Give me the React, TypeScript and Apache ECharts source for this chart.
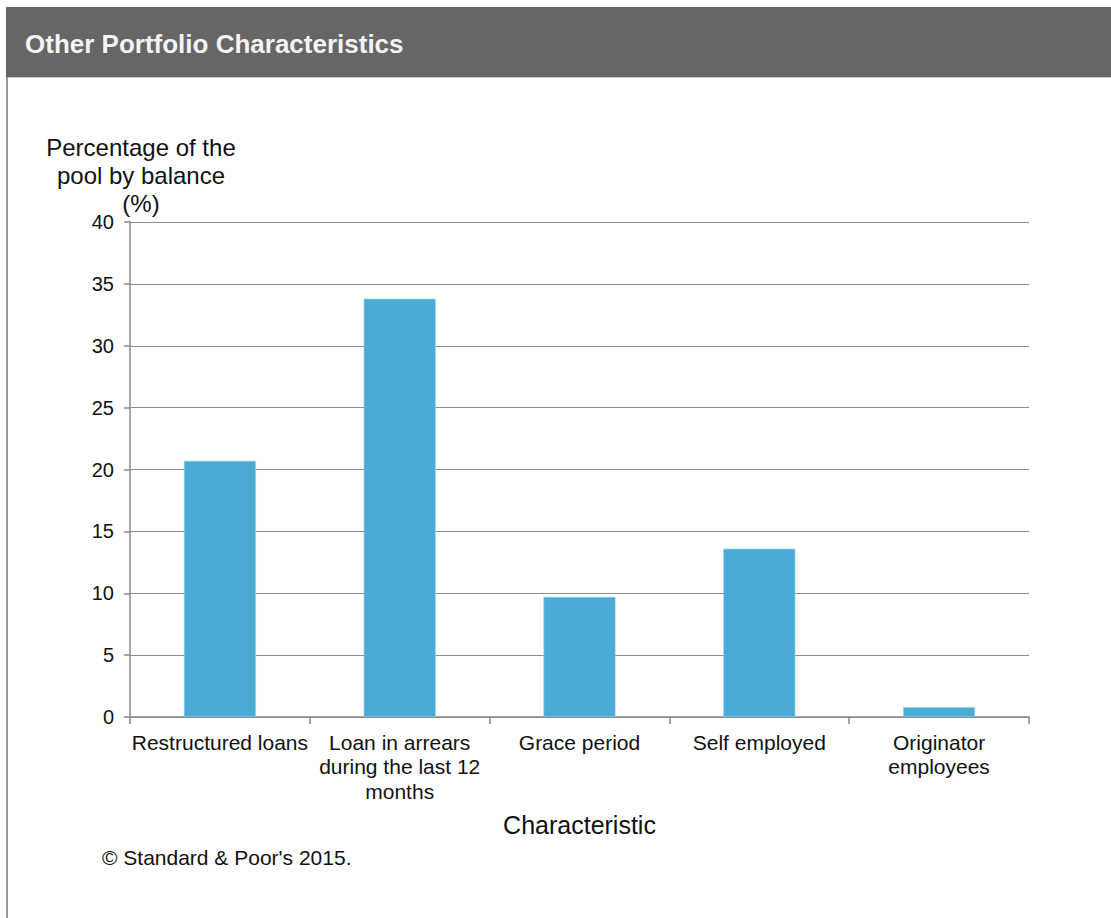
import React, { useEffect, useRef } from "react";
import * as echarts from "echarts";

const categories = [
  "Restructured loans",
  "Loan in arrears\nduring the last 12\nmonths",
  "Grace period",
  "Self employed",
  "Originator\nemployees",
];
const values = [20.7, 33.8, 9.7, 13.6, 0.8];
const yTicks = { min: 0, max: 40, interval: 5 };
const titleText = "Other Portfolio Characteristics";
const yAxisName = "Percentage of the\npool by balance\n(%)";
const xAxisName = "Characteristic";
const sourceText = "\u00a9 Standard & Poor's 2015.";

const FONT = "'Liberation Sans', Arial, sans-serif";

export default function App() {
  const ref = useRef<HTMLDivElement>(null);
  useEffect(() => {
    if (!ref.current) return;
    const chart = echarts.init(ref.current, null, { renderer: "svg" });
    chart.setOption({
      animation: false,
      backgroundColor: "#ffffff",
      textStyle: { fontFamily: FONT },
      graphic: [
        {
          type: "rect",
          shape: { x: 6, y: 7, width: 1105, height: 70 },
          style: { fill: "#666666" },
          silent: true,
        },
        {
          type: "line",
          shape: { x1: 6, y1: 77.5, x2: 1111, y2: 77.5 },
          style: { stroke: "#c8c8c8", lineWidth: 1 },
          silent: true,
        },
        {
          type: "line",
          shape: { x1: 7, y1: 77, x2: 7, y2: 918 },
          style: { stroke: "#9a9a9a", lineWidth: 2 },
          silent: true,
        },
        {
          type: "text",
          x: 25,
          y: 44,
          style: {
            text: titleText,
            fill: "#f4f4f4",
            font: `bold 26px ${FONT}`,
            verticalAlign: "middle",
            align: "left",
          },
          silent: true,
        },
        {
          type: "text",
          x: 141,
          y: 133,
          style: {
            text: yAxisName,
            fill: "#111111",
            font: `24px ${FONT}`,
            lineHeight: 28,
            align: "center",
            verticalAlign: "top",
          },
          silent: true,
        },
        {
          type: "text",
          x: 102,
          y: 857,
          style: {
            text: sourceText,
            fill: "#111111",
            font: `21px ${FONT}`,
            align: "left",
            verticalAlign: "middle",
          },
          silent: true,
        },
      ],
      grid: { left: 130, right: 82, top: 222, bottom: 201, containLabel: false },
      xAxis: {
        type: "category",
        data: categories,
        name: xAxisName,
        nameLocation: "middle",
        nameGap: 95,
        nameTextStyle: { fontSize: 25, color: "#111111", fontFamily: FONT },
        axisLine: { lineStyle: { color: "#888888", width: 1.5 } },
        axisTick: { show: true, length: 7, alignWithLabel: false, lineStyle: { color: "#888888", width: 1.5 } },
        axisLabel: {
          interval: 0,
          fontSize: 21,
          lineHeight: 24.5,
          color: "#111111",
          margin: 13,
          fontFamily: FONT,
        },
        splitLine: { show: false },
      },
      yAxis: {
        type: "value",
        min: yTicks.min,
        max: yTicks.max,
        interval: yTicks.interval,
        axisLine: { show: true, lineStyle: { color: "#888888", width: 1.5 } },
        axisTick: { show: true, length: 6, lineStyle: { color: "#888888", width: 1.5 } },
        axisLabel: { fontSize: 20, color: "#111111", margin: 16, fontFamily: FONT },
        splitLine: { show: true, lineStyle: { color: "#8c8c8c", width: 1.2 } },
      },
      series: [
        {
          type: "bar",
          data: values,
          barWidth: "40%",
          itemStyle: { color: "#4aacd6", borderColor: "#8fd0ee", borderWidth: 0.6 },
        },
      ],
    });
    return () => chart.dispose();
  }, []);
  return (
    <div
      ref={ref}
      style={{ position: "fixed", left: 0, top: 0, width: 1111, height: 918 }}
    />
  );
}
